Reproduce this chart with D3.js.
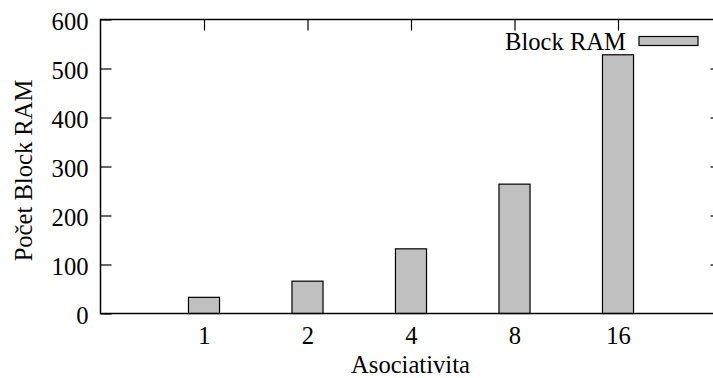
<!DOCTYPE html>
<html><head><meta charset="utf-8">
<script src="https://cdn.jsdelivr.net/npm/d3@7"></script>
<style>
html,body{margin:0;padding:0;background:#fff;}
svg{display:block;}
</style></head>
<body>
<script>
const categories = ["1", "2", "4", "8", "16"];
const blockRam = [33, 66, 132, 264, 528];
const yTicks = [0, 100, 200, 300, 400, 500, 600];
const seriesName = "Block RAM";
const xTitle = "Asociativita";
const yTitle = "Počet Block RAM";

const W = 713, H = 378;
const L = 100.5, R = 721.5, T = 19.5, B = 313.5;
const FONT = '"Liberation Serif", "Times New Roman", serif';
const FSIZE = "24.6px";

const svg = d3.select("body").append("svg").attr("width", W).attr("height", H)
  .style("font-family", FONT).style("font-size", FSIZE);

const x = d3.scaleLinear().domain([-1, categories.length]).range([L, R]);
const y = d3.scaleLinear().domain([0, 600]).range([B, T]);
const barHalf = 0.15;

const stroke = "#000";
const tickLen = 11;

function styleText(sel) {
  sel.attr("font-family", null).attr("font-size", null)
    .style("font-family", FONT).style("font-size", FSIZE).attr("fill", "#000");
}

// y ticks (left, inward) and mirrored (right)
const yAxisL = d3.axisLeft(y).tickValues(yTicks).tickSizeInner(-tickLen).tickSizeOuter(0).tickPadding(12);
const gL = svg.append("g").attr("transform", `translate(${L},0)`).call(yAxisL);
gL.attr("font-family", null).attr("font-size", null);
gL.select(".domain").remove();
gL.selectAll("line").attr("stroke", stroke).attr("stroke-width", 1.2);
gL.selectAll("text").call(styleText).attr("dy", "0.4em");

const yAxisR = d3.axisRight(y).tickValues(yTicks.slice(1, -1)).tickSizeInner(-tickLen).tickSizeOuter(0).tickFormat("");
const gR = svg.append("g").attr("transform", `translate(${R},0)`).call(yAxisR);
gR.select(".domain").remove();
gR.selectAll("line").attr("stroke", stroke).attr("stroke-width", 1.2);

// x ticks: top mirrored inward, bottom labels
const idx = categories.map((_, i) => i);
const xAxisT = d3.axisTop(x).tickValues(idx).tickSizeInner(-tickLen).tickSizeOuter(0).tickFormat("");
const gT = svg.append("g").attr("transform", `translate(0,${T})`).call(xAxisT);
gT.select(".domain").remove();
gT.selectAll("line").attr("stroke", stroke).attr("stroke-width", 1.2);

const xAxisB = d3.axisBottom(x).tickValues(idx).tickSizeInner(-tickLen).tickSizeOuter(0)
  .tickFormat(i => categories[i]).tickPadding(13);
const gB = svg.append("g").attr("transform", `translate(0,${B})`).call(xAxisB);
gB.attr("font-family", null).attr("font-size", null);
gB.select(".domain").remove();
gB.selectAll("line").attr("stroke", stroke).attr("stroke-width", 1.2);
gB.selectAll("text").call(styleText).attr("dy", "0.71em");

// bars
svg.append("g").selectAll("rect").data(blockRam).join("rect")
  .attr("x", (d, i) => x(i - barHalf))
  .attr("width", (d, i) => x(i + barHalf) - x(i - barHalf))
  .attr("y", d => y(d))
  .attr("height", d => y(0) - y(d))
  .attr("fill", "#c0c0c0")
  .attr("stroke", stroke).attr("stroke-width", 1.2);

// frame
svg.append("rect").attr("x", L).attr("y", T).attr("width", R - L).attr("height", B - T)
  .attr("fill", "none").attr("stroke", stroke).attr("stroke-width", 1.5);

// legend
svg.append("text").attr("x", 626).attr("y", 50).attr("text-anchor", "end").call(styleText).text(seriesName);
svg.append("rect").attr("x", 639).attr("y", 36.5).attr("width", 59).attr("height", 9)
  .attr("fill", "#c0c0c0").attr("stroke", stroke).attr("stroke-width", 1.2);

// axis titles
svg.append("text").attr("x", (L + R) / 2 - 0.5).attr("y", 373).attr("text-anchor", "middle").call(styleText).text(xTitle);
svg.append("text").attr("transform", `translate(31.5,${(T + B) / 2 + 4}) rotate(-90)`)
  .attr("text-anchor", "middle").call(styleText).text(yTitle);
</script>
</body></html>
